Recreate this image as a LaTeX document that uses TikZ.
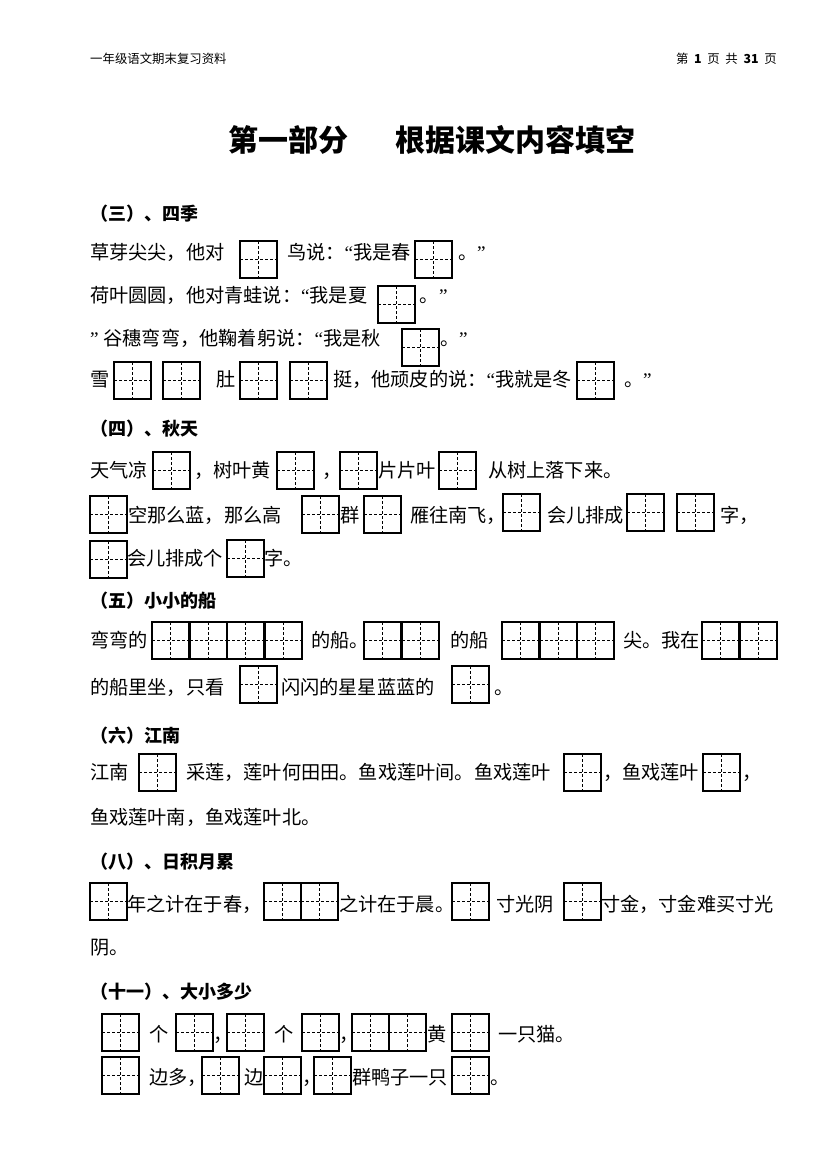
\documentclass[tikz,border=0pt]{standalone}
\usepackage{fontspec}
\newfontfamily\cjk{Noto Sans CJK SC}
\newfontfamily\latq{Liberation Serif}
\newcommand\qlft{{\latq “}}
\newcommand\qrgt{{\latq ”}}
\newcommand\gbox[3]{\node[tzbox] (#1) at (#2,#3) {};}
\newcommand\gtext[4]{\node[body] (#1) at (#2,#3) {#4};}
\begin{document}
\begin{tikzpicture}[x=1pt,y=-1pt,
  tzbox/.style={draw=black, line width=1.2pt, minimum width=37pt, minimum height=37pt,
    inner sep=0pt, outer sep=0pt, anchor=north west,
    path picture={\draw[line width=1.1pt, dash pattern=on 3pt off 2pt]
      (path picture bounding box.north) -- (path picture bounding box.south)
      (path picture bounding box.west) -- (path picture bounding box.east);}},
  body/.style={anchor=base west, inner sep=0pt, outer sep=0pt, font=\cjk\fontsize{19.2}{21}\selectfont},
  head/.style={body, font=\cjk\bfseries\fontsize{18}{20}\selectfont},
  small/.style={anchor=base west, inner sep=0pt, font=\cjk\fontsize{12.4}{14}\selectfont},
  title/.style={anchor=base west, inner sep=0pt, font=\cjk\bfseries\fontsize{30}{34}\selectfont}]
\useasboundingbox (0,0) rectangle (827,1169);
\fill[white] (0,0) rectangle (827,1169);
% header
\node[small] (hl) at (90,63.7) {一年级语文期末复习资料};
\node[small, anchor=base east] (hr) at (777,63.7) {第\hspace{5.7pt}\textbf{1}\hspace{5.7pt}页\hspace{5.7pt}共\hspace{5.7pt}\textbf{31}\hspace{5.7pt}页};
% title
\node[title] (t1) at (228,151.4) {第一部分};
\node[title] (t2) at (395,151.4) {根据课文内容填空};
% (三) 四季
\node[head] (h3) at (90,220) {（三）、四季};
\gtext{a1t1}{90}{259}{草芽尖尖，他对}
\gbox{a1b1}{240}{241}
\gtext{a1t2}{287}{259}{鸟说：\qlft 我是春}
\gbox{a1b2}{415}{241}
\gtext{a1t3}{458}{259}{。\qrgt}
\gtext{a2t1}{90}{302}{荷叶圆圆，他对青蛙说：\qlft 我是夏}
\gbox{a2b1}{378}{286}
\gtext{a2t2}{419}{302}{。}
\gtext{a2t3}{439}{302}{\qrgt}
\gtext{a3t1}{90}{345}{\qrgt\hspace{5pt}谷穗弯弯，他鞠着躬说：\qlft 我是秋}
\gbox{a3b1}{402}{329}
\gtext{a3t2}{440}{345}{。\qrgt}
\gtext{a4t1}{90}{386}{雪}
\gbox{a4b1}{114}{362}
\gbox{a4b2}{163}{362}
\gtext{a4t2}{216}{386}{肚}
\gbox{a4b3}{240}{362}
\gbox{a4b4}{290}{362}
\gtext{a4t3}{333}{386}{挺，他顽皮的说：\qlft 我就是冬}
\gbox{a4b5}{577}{362}
\gtext{a4t4}{624}{386}{。\qrgt}
% (四) 秋天
\node[head] (h4) at (90,435) {（四）、秋天};
\gtext{b1t1}{90}{477}{天气凉}
\gbox{b1b1}{153}{452}
\gtext{b1t2}{194}{477}{，树叶黄}
\gbox{b1b2}{277}{452}
\gtext{b1t3}{322}{477}{，}
\gbox{b1b3}{340}{452}
\gtext{b1t4}{378}{477}{片片叶}
\gbox{b1b4}{439}{452}
\gtext{b1t5}{488}{477}{从树上落下来。}
\gbox{b2b1}{90}{496}
\gtext{b2t1}{128}{522}{空那么蓝，那么高}
\gbox{b2b2}{302}{496}
\gtext{b2t2}{340}{522}{群}
\gbox{b2b3}{364}{496}
\gtext{b2t3}{410}{522}{雁往南飞，}
\gbox{b2b4}{503}{494}
\gtext{b2t4}{547}{522}{会儿排成}
\gbox{b2b5}{627}{494}
\gbox{b2b6}{677}{494}
\gtext{b2t5}{720}{522}{字，}
\gbox{b3b1}{90}{541}
\gtext{b3t1}{127}{565}{会儿排成个}
\gbox{b3b2}{227}{540}
\gtext{b3t2}{264}{565}{字。}
% (五) 小小的船
\node[head] (h5) at (90,607) {（五）小小的船};
\gtext{c1t1}{90}{647}{弯弯的}
\gbox{c1b1}{152}{622}
\gbox{c1b2}{190}{622}
\gbox{c1b3}{227}{622}
\gbox{c1b4}{265}{622}
\gtext{c1t2}{311}{647}{的船。}
\gbox{c1b5}{364}{622}
\gbox{c1b6}{402}{622}
\gtext{c1t3}{450}{647}{的船}
\gbox{c1b7}{502}{622}
\gbox{c1b8}{540}{622}
\gbox{c1b9}{577}{622}
\gtext{c1t4}{623}{647}{尖。我在}
\gbox{c1b10}{702}{622}
\gbox{c1b11}{740}{622}
\gtext{c2t1}{90}{694}{的船里坐，只看}
\gbox{c2b1}{240}{666}
\gtext{c2t2}{281}{694}{闪闪的星星蓝蓝的}
\gbox{c2b2}{452}{666}
\gtext{c2t3}{494}{694}{。}
% (六) 江南
\node[head] (h6) at (90,742) {（六）江南};
\gtext{d1t1}{90}{779}{江南}
\gbox{d1b1}{139}{754}
\gtext{d1t2}{186}{779}{采莲，莲叶何田田。鱼戏莲叶间。鱼戏莲叶}
\gbox{d1b2}{564}{754}
\gtext{d1t3}{603}{779}{，鱼戏莲叶}
\gbox{d1b3}{703}{754}
\gtext{d1t4}{742}{779}{，}
\gtext{d2t1}{90}{824}{鱼戏莲叶南，鱼戏莲叶北。}
% (八) 日积月累
\node[head] (h8) at (90,868) {（八）、日积月累};
\gbox{e1b1}{90}{883}
\gtext{e1t1}{127}{911}{年之计在于春，}
\gbox{e1b2}{264}{883}
\gbox{e1b3}{301}{883}
\gtext{e1t2}{339}{911}{之计在于晨。}
\gbox{e1b4}{452}{883}
\gtext{e1t3}{496}{911}{寸光阴}
\gbox{e1b5}{564}{883}
\gtext{e1t4}{601}{911}{寸金，寸金难买寸光}
\gtext{e2t1}{90}{954}{阴。}
% (十一) 大小多少
\node[head] (h11) at (90,998) {（十一）、大小多少};
\gbox{f1b1}{102}{1014}
\gtext{f1t1}{149}{1041}{个}
\gbox{f1b2}{176}{1014}
\gtext{f1t2}{213}{1041}{，}
\gbox{f1b3}{227}{1014}
\gtext{f1t3}{274}{1041}{个}
\gbox{f1b4}{302}{1014}
\gtext{f1t4}{339}{1041}{，}
\gbox{f1b5}{352}{1014}
\gbox{f1b6}{389}{1014}
\gtext{f1t5}{427}{1041}{黄}
\gbox{f1b7}{452}{1014}
\gtext{f1t6}{498}{1041}{一只猫。}
\gbox{f2b1}{102}{1057}
\gtext{f2t1}{149}{1084}{边多，}
\gbox{f2b2}{202}{1057}
\gtext{f2t2}{244}{1084}{边}
\gbox{f2b3}{264}{1057}
\gtext{f2t3}{302}{1084}{，}
\gbox{f2b4}{314}{1057}
\gtext{f2t4}{352}{1084}{群鸭子一只}
\gbox{f2b5}{452}{1057}
\gtext{f2t5}{490}{1084}{。}
\end{tikzpicture}
\end{document}
